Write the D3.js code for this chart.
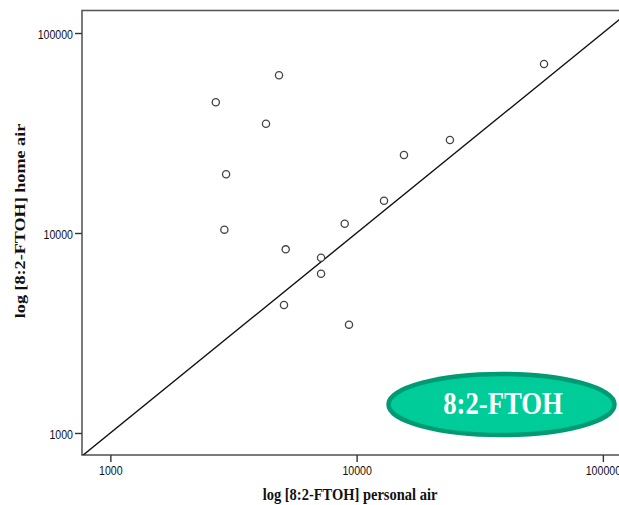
<!DOCTYPE html>
<html><head><meta charset="utf-8">
<script src="https://cdn.jsdelivr.net/npm/d3@7"></script>
<style>
html,body{margin:0;padding:0;background:#fff;}
svg{display:block;}
</style></head>
<body>
<script>
// Data: 8:2-FTOH personal air vs home air
const personalAir = [2680, 4840, 4285, 2951, 2904, 5153, 5070, 7170, 7170, 8946, 12920, 15570, 9311, 23930, 57680];
const homeAir     = [45030, 61450, 35200, 19660, 10390, 8286, 4365, 7524, 6260, 11130, 14505, 24550, 3480, 29170, 69980];
const xTicks = [1000, 10000, 100000];
const yTicks = [1000, 10000, 100000];
const xTickLabels = ["1000", "10000", "100000"];
const yTickLabels = ["1000", "10000", "100000"];
const xTitle = "log [8:2-FTOH] personal air";
const yTitle = "log [8:2-FTOH] home air";
const badgeText = "8:2-FTOH";

(function(){
const W = 619, H = 505;
const pLeft = 82, pRight = 632.4, pTop = 10.5, pBottom = 455;
const vs = 1.22; // vertical stretch of the original image

const svg = d3.select("body").append("svg").attr("width", W).attr("height", H);

const x = d3.scaleLog().domain([767, 131800]).range([pLeft, pRight]);
const y = d3.scaleLog().domain([776, 129600]).range([pBottom, pTop]);

svg.append("defs").append("clipPath").attr("id","clip")
  .append("rect").attr("x", pLeft).attr("y", pTop).attr("width", pRight-pLeft).attr("height", pBottom-pTop);

// frame
svg.append("rect").attr("x", pLeft).attr("y", pTop).attr("width", pRight-pLeft).attr("height", pBottom-pTop)
  .attr("fill","none").attr("stroke","#5a5a5a").attr("stroke-width",1.6);

// axes
const xAxis = d3.axisBottom(x).tickValues(xTicks).tickFormat((d,i)=>xTickLabels[i]).tickSize(7);
const yAxis = d3.axisLeft(y).tickValues(yTicks).tickFormat((d,i)=>yTickLabels[i]).tickSize(7);

const gx = svg.append("g").attr("transform", `translate(0,${pBottom})`).call(xAxis);
const gy = svg.append("g").attr("transform", `translate(${pLeft},0)`).call(yAxis);
[gx, gy].forEach(g => {
  g.select(".domain").remove();
  g.selectAll(".tick line").attr("stroke","#333").attr("stroke-width",1.4);
  g.selectAll(".tick text").attr("fill","#111").style("font-family","'Liberation Sans', Arial, sans-serif").style("font-size","10.6px")
    .attr("x",0).attr("y",0).attr("dy",0);
});
gx.selectAll(".tick text").attr("transform", `translate(0,20) scale(1,${vs})`);
gy.selectAll(".tick text").attr("transform", `translate(-9,5.3) scale(1,${vs})`);

// identity line
const lo = 700, hi = 140000;
svg.append("line").attr("clip-path","url(#clip)")
  .attr("x1", x(lo)).attr("y1", y(lo)).attr("x2", x(hi)).attr("y2", y(hi))
  .attr("stroke","#111").attr("stroke-width",1.4);

// points
svg.append("g").selectAll("circle").data(personalAir.map((p,i)=>[p, homeAir[i]])).join("circle")
  .attr("cx", d=>x(d[0])).attr("cy", d=>y(d[1])).attr("r",3.6)
  .attr("fill","#fff").attr("stroke","#444").attr("stroke-width",1.3);

// titles
svg.append("text").attr("transform", `translate(350,499.5) scale(1,${vs})`).attr("text-anchor","middle")
  .style("font-family","'Liberation Serif','Times New Roman',serif").style("font-weight","bold").style("font-size","14.5px")
  .attr("fill","#111").text(xTitle);
svg.append("text").attr("transform",`translate(25,221) rotate(-90) scale(1.25,1)`).attr("text-anchor","middle")
  .style("font-family","'Liberation Serif','Times New Roman',serif").style("font-weight","bold").style("font-size","14.5px")
  .attr("fill","#111").text(yTitle);

// badge
svg.append("ellipse").attr("cx", 501.5).attr("cy", 404.5).attr("rx", 113).attr("ry", 30.5)
  .attr("fill","#00cc99").attr("stroke","#009b72").attr("stroke-width",4.5);
svg.append("text").attr("transform", `translate(503,414) scale(1,${vs})`).attr("text-anchor","middle")
  .style("font-family","'Liberation Serif','Times New Roman',serif").style("font-weight","bold").style("font-size","26.7px")
  .attr("fill","#fff").text(badgeText);
})();
</script>
</body></html>
